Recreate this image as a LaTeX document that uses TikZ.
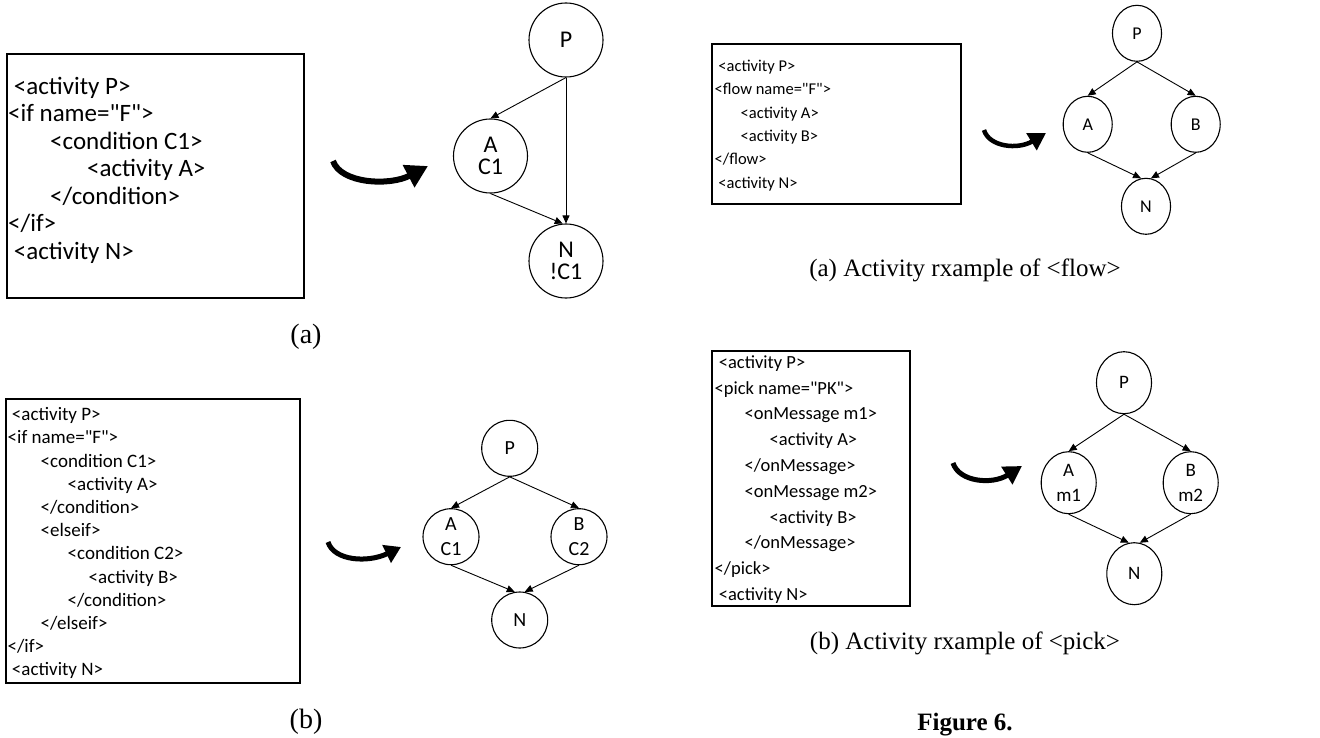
\documentclass[tikz,border=0pt]{standalone}
\usepackage{fontspec}
\setmainfont{Liberation Serif}
\newfontfamily\calibri{Carlito}
\usetikzlibrary{arrows.meta,shapes.geometric}
\tikzset{
  box/.style={draw, line width=1.2pt, rectangle, inner sep=0pt},
  codeline/.style={anchor=base west, inner sep=0pt},
  circ/.style={draw, line width=1.1pt, circle, inner sep=0pt, minimum size=#1, align=center},
  ell/.style 2 args={draw, line width=1.1pt, ellipse, inner sep=0pt, minimum width=#1, minimum height=#2, align=center},
  conn/.style={line width=0.9pt, -{Triangle[length=8pt,width=7pt]}},
  bigarrow/.style n args={3}{line width=#1, -{Triangle[length=#2,width=#3]}},
  captext/.style={font=\fontsize{25pt}{30pt}\selectfont},
}
\begin{document}
\begin{tikzpicture}[x=1pt,y=-1pt]
\useasboundingbox (0,0) rectangle (1320,738);

% ---------- panel (a) top-left ----------
\node[box, minimum width=297pt, minimum height=244pt] (boxa) at (155.5,176) {};
\foreach \lv/\txt [count=\i from 0] in {0/{\ <activity P>}, 0/{<if name="F">}, 42/{<condition C1>}, 79/{<activity A>}, 42/{</condition>}, 0/{</if>}, 0/{\ <activity N>}}
  \node[codeline, font=\calibri\fontsize{25pt}{27.5pt}\selectfont] (ca\i) at ({8+\lv},{94.5+27.5*\i}) {\txt};

\begin{scope}[font=\calibri\fontsize{24pt}{22pt}\selectfont]
\node[circ=74pt] (aP) at (566,40) {P};
\node[circ=74pt] (aA) at (490.5,156) {A\\C1};
\node[circ=74pt] (aN) at (566,261) {N\\!C1};
\end{scope}
\draw[conn] (aP.south) -- (aA.north);
\draw[conn] (aP.south) -- (aN.north);
\draw[conn] (aA.south) -- (aN.95);
\coordinate (ua1) at (333,161);
\coordinate (ua2) at (428,166);
\draw[bigarrow={6pt}{22pt}{24pt}] (ua1) .. controls (341,184) and (390,186) .. (ua2);
\node[font=\fontsize{28pt}{32pt}\selectfont] (capa) at (306,337) {(a)};

% ---------- panel (b) bottom-left ----------
\node[box, minimum width=294pt, minimum height=284pt] (boxb) at (153,541) {};
\foreach \lv/\txt [count=\i from 0] in {0/{\ <activity P>}, 0/{<if name="F">}, 33/{<condition C1>}, 60/{<activity A>}, 33/{</condition>}, 33/{<elseif>}, 60/{<condition C2>}, 81/{<activity B>}, 60/{</condition>}, 33/{</elseif>}, 0/{</if>}, 0/{\ <activity N>}}
  \node[codeline, font=\calibri\fontsize{19pt}{23pt}\selectfont] (cb\i) at ({7.5+\lv},{420.7+23.2*\i}) {\txt};

\begin{scope}[font=\calibri\fontsize{20pt}{25pt}\selectfont]
\node[circ=56pt] (bP) at (509.7,448.3) {P};
\node[circ=56pt] (bA) at (451,536.7) {A\\C1};
\node[circ=56pt] (bB) at (579,536.7) {B\\C2};
\node[circ=56pt] (bN) at (519.7,620) {N};
\end{scope}
\draw[conn] (bP.south) -- (bA.north);
\draw[conn] (bP.south) -- (bB.north);
\draw[conn] (bA.south) -- (bN.100);
\draw[conn] (bB.south) -- (bN.80);
\coordinate (ub1) at (328,542);
\coordinate (ub2) at (401,547);
\draw[bigarrow={5pt}{16pt}{19pt}] (ub1) .. controls (334,561) and (368,563) .. (ub2);
\node[font=\fontsize{28pt}{32pt}\selectfont] (capb) at (306,722) {(b)};

% ---------- panel top-right (flow) ----------
\node[box, minimum width=249pt, minimum height=160pt] (boxc) at (836.5,124) {};
\foreach \lv/\txt [count=\i from 0] in {0/{\ <activity P>}, 0/{<flow name="F">}, 26/{<activity A>}, 26/{<activity B>}, 0/{</flow>}, 0/{\ <activity N>}}
  \node[codeline, font=\calibri\fontsize{16.5pt}{20pt}\selectfont] (cc\i) at ({714.5+\lv},{71.7+23.3*\i}) {\txt};

\begin{scope}[font=\calibri\fontsize{18pt}{22pt}\selectfont]
\node[ell={49pt}{56pt}] (cP) at (1137,33.3) {P};
\node[ell={49pt}{56pt}] (cA) at (1087.7,124.3) {A};
\node[ell={49pt}{56pt}] (cB) at (1195.7,124.3) {B};
\node[ell={49pt}{56pt}] (cN) at (1146,206.3) {N};
\end{scope}
\draw[conn] (cP.south) -- (cA.north);
\draw[conn] (cP.south) -- (cB.north);
\draw[conn] (cA.south) -- (cN.100);
\draw[conn] (cB.south) -- (cN.80);
\coordinate (uc1) at (984,130);
\coordinate (uc2) at (1046,133);
\draw[bigarrow={4.5pt}{17pt}{19pt}] (uc1) .. controls (989,147) and (1018,150) .. (uc2);
\node[captext] (capc) at (965,270) {(a) Activity rxample of <flow>};

% ---------- panel bottom-right (pick) ----------
\node[box, minimum width=198pt, minimum height=255pt] (boxd) at (811,478.5) {};
\foreach \lv/\txt [count=\i from 0] in {0/{\ <activity P>}, 0/{<pick name="PK">}, 30/{<onMessage m1>}, 55/{<activity A>}, 30/{</onMessage>}, 30/{<onMessage m2>}, 55/{<activity B>}, 30/{</onMessage>}, 0/{</pick>}, 0/{\ <activity N>}}
  \node[codeline, font=\calibri\fontsize{18.5pt}{22pt}\selectfont] (cd\i) at ({714.5+\lv},{368.3+25.8*\i}) {\txt};

\begin{scope}[font=\calibri\fontsize{19pt}{25pt}\selectfont]
\node[ell={55pt}{62pt}] (dP) at (1124,382.7) {P};
\node[ell={55pt}{62pt}] (dA) at (1068.7,482.7) {A\\m1};
\node[ell={55pt}{62pt}] (dB) at (1190.7,482.7) {B\\m2};
\node[ell={55pt}{62pt}] (dN) at (1134.3,573.7) {N};
\end{scope}
\draw[conn] (dP.south) -- (dA.north);
\draw[conn] (dP.south) -- (dB.north);
\draw[conn] (dA.south) -- (dN.100);
\draw[conn] (dB.south) -- (dN.80);
\coordinate (ud1) at (953,463);
\coordinate (ud2) at (1022,466);
\draw[bigarrow={5pt}{18pt}{20pt}] (ud1) .. controls (959,482) and (992,485) .. (ud2);
\node[captext] (capd) at (965,643) {(b) Activity rxample of <pick>};

\node[font=\bfseries\fontsize{25pt}{30pt}\selectfont] (fig) at (965,725) {Figure 6.};
\end{tikzpicture}
\end{document}
